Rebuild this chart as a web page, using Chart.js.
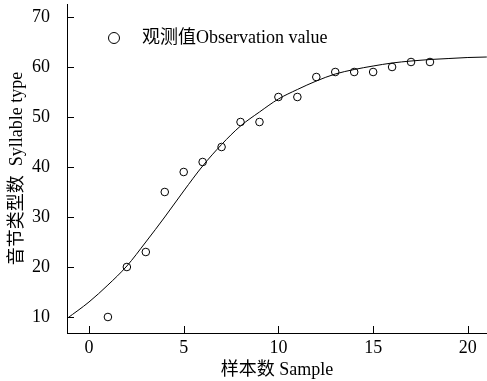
<!DOCTYPE html>
<html>
<head>
<meta charset="utf-8">
<script src="https://cdn.jsdelivr.net/npm/chart.js@4"></script>
<style>
  html, body { margin: 0; padding: 0; background: #fff; }
</style>
</head>
<body>
<canvas id="chart" width="487" height="381"></canvas>
<script>
// observed points
const samples = [1, 2, 3, 4, 5, 6, 7, 8, 9, 10, 11, 12, 13, 14, 15, 16, 17, 18];
const observed = [10, 20, 23, 35, 39, 41, 44, 49, 49, 54, 54, 58, 59, 59, 59, 60, 61, 61];

// fitted curve
const curveX = [-1.16, 0, 1, 2, 3, 4, 5, 6, 7, 8, 9, 10, 11, 12, 13, 14, 15, 16, 17, 18, 19, 20, 21];
const curveY = [9.7, 13, 16.4, 20.2, 25, 30, 35.2, 40.2, 44.5, 48.2, 51, 53.6, 55.5, 57.2, 58.6, 59.5, 60.2, 60.8, 61.2, 61.5, 61.7, 61.9, 62];

const xTicks = [0, 5, 10, 15, 20];
const yTicks = [10, 20, 30, 40, 50, 60, 70];

const legendLabel = '观测值Observation value';
const xTitle = '样本数 Sample';
const yTitle = '音节类型数  Syllable type';

const serif = "'Liberation Serif', 'Times New Roman', 'Noto Sans CJK SC', serif";
const labelFont = { family: serif, size: 18 };

// tick marks point into the plot, so draw them by hand from the scales
const innerTicks = {
    id: 'innerTicks',
    afterDraw(chart) {
        const { ctx, chartArea, scales } = chart;
        const len = 7;
        ctx.save();
        ctx.strokeStyle = '#000';
        ctx.lineWidth = 1;
        ctx.beginPath();
        scales.x.ticks.forEach(t => {
            const px = Math.round(scales.x.getPixelForValue(t.value)) + 0.5;
            ctx.moveTo(px, chartArea.bottom);
            ctx.lineTo(px, chartArea.bottom - len);
        });
        scales.y.ticks.forEach(t => {
            const py = Math.round(scales.y.getPixelForValue(t.value)) + 0.5;
            ctx.moveTo(chartArea.left, py);
            ctx.lineTo(chartArea.left + len, py);
        });
        ctx.stroke();

        // legend inside the plot
        const lx = chartArea.left + 47;
        const ly = chartArea.top + 34;
        ctx.beginPath();
        ctx.arc(lx, ly, 5.5, 0, Math.PI * 2);
        ctx.stroke();
        ctx.fillStyle = '#000';
        ctx.font = `18px ${serif}`;
        ctx.textBaseline = 'middle';
        ctx.textAlign = 'left';
        ctx.fillText(chart.data.datasets[0].label, lx + 28, ly);
        ctx.restore();
    }
};

const config = {
    type: 'scatter',
    data: {
        datasets: [
            {
                label: legendLabel,
                data: samples.map((s, i) => ({ x: s, y: observed[i] })),
                pointStyle: 'circle',
                pointRadius: 3.8,
                pointBorderWidth: 1,
                pointBorderColor: '#000',
                pointBackgroundColor: 'rgba(255,255,255,0)',
                showLine: false
            },
            {
                label: 'fit',
                data: curveX.map((x, i) => ({ x: x, y: curveY[i] })),
                showLine: true,
                borderColor: '#000',
                borderWidth: 1,
                pointRadius: 0,
                cubicInterpolationMode: 'monotone'
            }
        ]
    },
    options: {
        responsive: false,
        animation: false,
        layout: {
            autoPadding: false,
            padding: { top: 4, right: 0, left: 0, bottom: 0 }
        },
        scales: {
            x: {
                type: 'linear',
                min: -1.16,
                max: 21.01,
                afterBuildTicks: scale => { scale.ticks = xTicks.map(v => ({ value: v })); },
                afterFit: scale => {
                    scale.height = 48;
                    scale.paddingLeft = 0;
                    scale.paddingRight = 0;
                },
                grid: { display: false },
                border: { display: true, color: '#000', width: 1 },
                ticks: {
                    color: '#000',
                    font: labelFont,
                    padding: -4,
                    maxRotation: 0,
                    autoSkip: false
                },
                title: {
                    display: true,
                    text: xTitle,
                    color: '#000',
                    font: labelFont,
                    padding: { top: 0, bottom: 0 }
                }
            },
            y: {
                min: 6.8,
                max: 72.6,
                afterBuildTicks: scale => { scale.ticks = yTicks.map(v => ({ value: v })); },
                afterFit: scale => {
                    scale.width = 67;
                    scale.paddingTop = 0;
                    scale.paddingBottom = 0;
                },
                grid: { display: false },
                border: { display: true, color: '#000', width: 1 },
                ticks: {
                    color: '#000',
                    font: labelFont,
                    padding: 9
                },
                title: {
                    display: true,
                    text: yTitle,
                    color: '#000',
                    font: labelFont,
                    padding: { top: 6, bottom: 0 }
                }
            }
        },
        plugins: {
            legend: { display: false },
            tooltip: { enabled: false }
        }
    },
    plugins: [innerTicks]
};

new Chart(document.getElementById('chart'), config);
</script>
</body>
</html>
